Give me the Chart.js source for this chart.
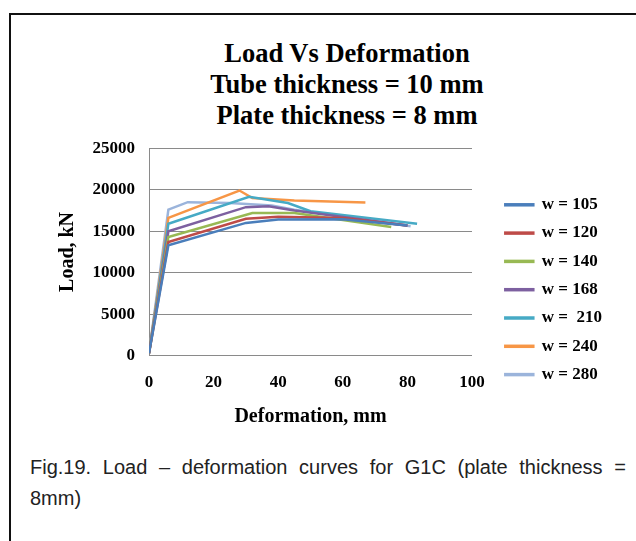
<!DOCTYPE html>
<html>
<head>
<meta charset="utf-8">
<script src="https://cdn.jsdelivr.net/npm/chart.js@4/dist/chart.umd.min.js"></script>
<style>
    html, body { margin: 0; padding: 0; background: #fff; }
    #fig { position: relative; width: 636px; height: 541px; overflow: hidden; background: #fff; }
    #moldura { position: absolute; left: 9px; top: 13px; width: 640px; height: 540px;
               border-top: 2px solid #111; border-left: 2px solid #111; }
    #titulo { position: absolute; left: 147px; top: 38px; width: 400px; text-align: center;
              font-family: 'Liberation Serif', 'Times New Roman', serif; font-weight: bold;
              font-size: 26.5px; line-height: 31px; color: #000; }
    #grafico { position: absolute; left: 10px; top: 124px; }
    #legenda-fig { position: absolute; left: 30px; top: 452px; width: 596px;
                   font-family: 'Liberation Sans', Arial, sans-serif; font-size: 20px;
                   line-height: 31px; color: #222; }
    #legenda-fig .l1 { text-align: justify; text-align-last: justify; white-space: nowrap; }
</style>
</head>
<body>
<div id="fig">
    <div id="moldura"></div>
    <div id="titulo">Load Vs Deformation<br>Tube thickness = 10 mm<br>Plate thickness = 8 mm</div>
    <canvas id="grafico" width="626" height="306"></canvas>
    <div id="legenda-fig">
        <div class="l1">Fig.19. Load – deformation curves for G1C (plate thickness =</div>
        <div>8mm)</div>
    </div>
</div>
<script>
// ── Dados: deformação (mm) x carga (kN) por largura w ───────────
const rotulos = ['w = 105', 'w = 120', 'w = 140', 'w = 168', 'w =  210', 'w = 240', 'w = 280'];
const cores   = ['#4A7EBB', '#BE4B48', '#98B954', '#7D60A0', '#46AAC5', '#F79646', '#9BB4DB'];

const defW105 = [0, 6, 30, 40, 60, 80];
const cargaW105 = [300, 13300, 16000, 16400, 16450, 15700];
const defW120 = [0, 6, 30, 40, 60, 80];
const cargaW120 = [300, 13700, 16500, 16750, 16600, 15700];
const defW140 = [0, 6, 32, 45, 75];
const cargaW140 = [300, 14300, 17200, 17200, 15500];
const defW168 = [0, 6, 30, 37, 45, 80];
const cargaW168 = [300, 15000, 17900, 18000, 17500, 15700];
const defW210 = [0, 6, 31, 43, 50, 83];
const cargaW210 = [300, 15900, 19150, 18400, 17400, 15900];
const defW240 = [0, 6, 28, 32, 45, 67];
const cargaW240 = [300, 16600, 19900, 19000, 18700, 18450];
const defW280 = [0, 6, 12, 25, 38, 45, 81];
const cargaW280 = [300, 17600, 18500, 18400, 18100, 17600, 15600];

const deformacoes = [defW105, defW120, defW140, defW168, defW210, defW240, defW280];
const cargas      = [cargaW105, cargaW120, cargaW140, cargaW168, cargaW210, cargaW240, cargaW280];

const ticksX = [0, 20, 40, 60, 80, 100];
const ticksY = [0, 5000, 10000, 15000, 20000, 25000];

const fonteSerif = "'Liberation Serif', 'Times New Roman', serif";

const datasets = rotulos.map((rotulo, i) => ({
    label: rotulo,
    data: deformacoes[i].map((x, k) => ({ x: x, y: cargas[i][k] })),
    borderColor: cores[i],
    backgroundColor: cores[i],
    borderWidth: 2.5,
    pointRadius: 0,
    tension: 0,
    showLine: true
}));

// legenda fica fora da área do gráfico, como no original
const posicionaLegenda = {
    id: 'posicionaLegenda',
    afterLayout(chart) {
        const lg = chart.legend;
        if (!lg) return;
        const dx = 484 - lg.left, dy = 61 - lg.top;
        lg.left += dx; lg.right += dx; lg.top += dy; lg.bottom += dy;
    }
};

new Chart(document.getElementById('grafico'), {
    type: 'scatter',
    data: { datasets: datasets },
    plugins: [posicionaLegenda],
    options: {
        responsive: false,
        animation: false,
        layout: { padding: { left: 0, top: 12, right: 46, bottom: 0 } },
        plugins: {
            tooltip: { enabled: false },
            legend: {
                position: 'right',
                align: 'start',
                labels: {
                    boxWidth: 28, boxHeight: 1, padding: 11.3,
                    color: '#000',
                    font: { family: fonteSerif, size: 17, weight: 'bold' }
                }
            }
        },
        scales: {
            x: {
                type: 'linear', min: 0, max: 100,
                afterBuildTicks: s => { s.ticks = ticksX.map(v => ({ value: v })); },
                afterFit: s => { s.height = 74.3; },
                grid: { display: false, drawTicks: false },
                border: { display: true, color: '#8a8a8a', width: 1 },
                ticks: { color: '#000', padding: 17, callback: v => String(v),
                         font: { family: fonteSerif, size: 17, weight: 'bold' } },
                title: {
                    display: true, text: 'Deformation, mm', color: '#000',
                    padding: { top: 0, bottom: 1 },
                    font: { family: fonteSerif, size: 20, weight: 'bold' }
                }
            },
            y: {
                type: 'linear', min: 0, max: 25000,
                afterBuildTicks: s => { s.ticks = ticksY.map(v => ({ value: v })); },
                afterFit: s => { s.width = 139; },
                grid: { color: '#8a8a8a', lineWidth: 1, drawTicks: false },
                border: { display: true, color: '#8a8a8a', width: 1 },
                ticks: { color: '#000', padding: 14, callback: v => String(v),
                         font: { family: fonteSerif, size: 17, weight: 'bold' } },
                title: {
                    display: true, text: 'Load, kN', color: '#000',
                    padding: { top: 46, bottom: 0 },
                    font: { family: fonteSerif, size: 20, weight: 'bold' }
                }
            }
        }
    }
});
</script>
</body>
</html>
